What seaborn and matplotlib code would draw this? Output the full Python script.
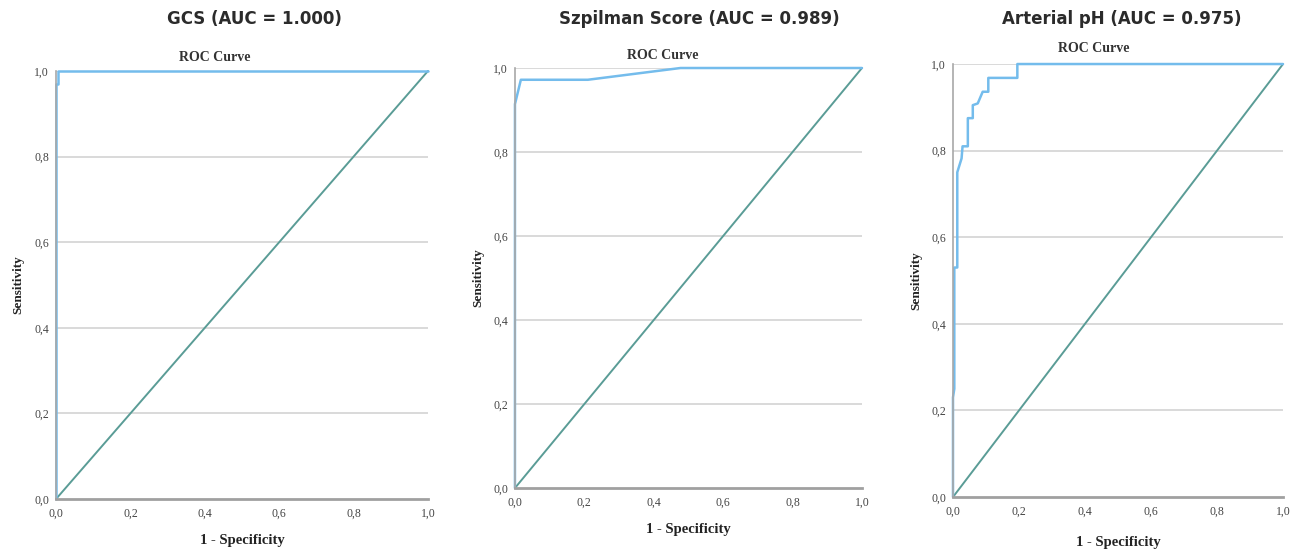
import matplotlib
matplotlib.use("Agg")
import matplotlib.pyplot as plt
import numpy as np
import pandas as pd
import seaborn as sns
from matplotlib.ticker import FuncFormatter, MultipleLocator

# ROC curve points (1 - specificity, sensitivity)
gcs_fpr = [0.0, 0.0, 0.006, 0.006, 1.0]
gcs_tpr = [0.0, 0.97, 0.97, 1.0, 1.0]

szp_fpr = [0.0, 0.0, 0.017, 0.21, 0.477, 1.0]
szp_tpr = [0.0, 0.914, 0.972, 0.972, 1.0, 1.0]

ph_fpr = [0.0, 0.0, 0.004, 0.004, 0.013, 0.013, 0.026, 0.029, 0.045, 0.045,
          0.06, 0.06, 0.075, 0.09, 0.107, 0.107, 0.195, 0.195, 1.0]
ph_tpr = [0.0, 0.23, 0.25, 0.53, 0.53, 0.75, 0.782, 0.81, 0.81, 0.875,
          0.875, 0.905, 0.909, 0.936, 0.936, 0.968, 0.968, 1.0, 1.0]

titles = ["GCS (AUC = 1.000)", "Szpilman Score (AUC = 0.989)",
          "Arterial pH (AUC = 0.975)"]
ref_line = [0.0, 1.0]

curves = [(gcs_fpr, gcs_tpr), (szp_fpr, szp_tpr), (ph_fpr, ph_tpr)]

sns.set_style("white")
plt.rcParams["font.family"] = ["DejaVu Sans"]

fig = plt.figure(figsize=(13.06, 5.52), dpi=100)

# axes rectangles, in figure fraction
rects = [
    [0.0429, 0.0960, 0.2848, 0.7754],
    [0.3943, 0.1159, 0.2657, 0.7609],
    [0.7297, 0.0996, 0.2527, 0.7844],
]
title_x = [0.1945, 0.5352, 0.8591]
roc_xy = [(0.1646, 0.8967), (0.5077, 0.9003), (0.8377, 0.9130)]
ylab_x = [0.0138, 0.3660, 0.7014]
xlab_y = [0.020, 0.040, 0.018]

serif = "Liberation Serif"
blue = "#74bcec"
teal = "#5a9c96"

comma = FuncFormatter(lambda v, p: f"{v:.1f}".replace(".", ","))

for i, (fpr, tpr) in enumerate(curves):
    ax = fig.add_axes(rects[i])
    df = pd.DataFrame({"fpr": fpr, "tpr": tpr})
    diag = pd.DataFrame({"x": ref_line, "y": ref_line})

    for yy in np.arange(0.2, 1.01, 0.2):
        ax.axhline(yy, color="#cfcfcf", lw=1.1, zorder=0)

    sns.lineplot(data=diag, x="x", y="y", ax=ax, color=teal, lw=1.4,
                 sort=False, estimator=None, clip_on=False)
    sns.lineplot(data=df, x="fpr", y="tpr", ax=ax, color=blue, lw=1.8,
                 sort=False, estimator=None, clip_on=False)

    ax.set_xlim(0, 1)
    ax.set_ylim(0, 1)
    ax.xaxis.set_major_locator(MultipleLocator(0.2))
    ax.yaxis.set_major_locator(MultipleLocator(0.2))
    ax.xaxis.set_major_formatter(comma)
    ax.yaxis.set_major_formatter(comma)
    ax.tick_params(axis="x", length=0, pad=6, labelsize=8.5,
                   labelcolor="#444444")
    ax.tick_params(axis="y", length=0, pad=5, labelsize=8.5,
                   labelcolor="#444444")
    for lab in ax.get_xticklabels() + ax.get_yticklabels():
        lab.set_fontfamily(serif)
    ax.set_xlabel("")
    ax.set_ylabel("")

    for s in ["top", "right"]:
        ax.spines[s].set_visible(False)
    ax.spines["left"].set_color("#a8a8a8")
    ax.spines["left"].set_linewidth(1.2)
    ax.spines["bottom"].set_color("#a0a0a0")
    ax.spines["bottom"].set_linewidth(2.0)

    cx = rects[i][0] + rects[i][2] / 2
    fig.text(title_x[i], 0.965, titles[i], ha="center", va="center",
             fontsize=12, fontweight="bold", color="#2b2b2b")
    fig.text(roc_xy[i][0], roc_xy[i][1], "ROC Curve", ha="center",
             va="center", fontsize=10, fontweight="bold", family=serif,
             color="#333333")
    fig.text(ylab_x[i], rects[i][1] + rects[i][3] / 2, "Sensitivity",
             rotation=90, ha="center", va="center", fontsize=9.5,
             fontweight="bold", family=serif, color="#222222")
    fig.text(cx, xlab_y[i], "1 - Specificity", ha="center", va="center",
             fontsize=10.5, fontweight="bold", family=serif, color="#222222")

fig.savefig("out.png", dpi=100, facecolor="white")
